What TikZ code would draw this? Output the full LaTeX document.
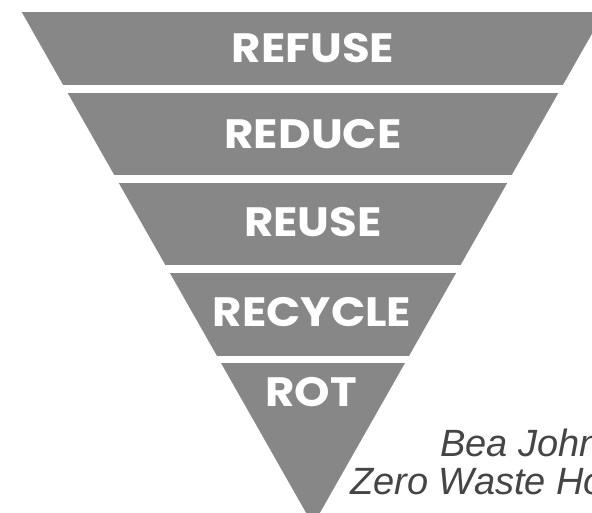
\documentclass[tikz,border=0pt]{standalone}
\usepackage{fontspec}
\setmainfont{Liberation Sans}
\newfontfamily\labelfont[FakeStretch=1.1]{Poppins}
\definecolor{bandgray}{HTML}{878787}
\definecolor{credgray}{HTML}{454545}
\tikzset{
  band/.style={fill=bandgray},
  lbl/.style={text=white, font=\labelfont\fontsize{41}{46}\selectfont\bfseries, inner sep=0pt, anchor=center},
  cred/.style={text=credgray, font=\fontsize{38}{42}\selectfont\itshape, inner sep=0pt, anchor=base west}
}
\begin{document}
\begin{tikzpicture}[x=1pt,y=-1pt]
\useasboundingbox (0,0) rectangle (592,513);
\clip (0,0) rectangle (592,513);
\fill[white] (0,0) rectangle (592,513);
\coordinate (tl) at (21.7,12);
\coordinate (tr) at (604.3,12);
\coordinate (apex) at (313,525);
\begin{scope}
  \clip (tl) -- (tr) -- (apex) -- cycle;
  \fill[band] (0,12) rectangle (620,85);
  \fill[band] (0,93) rectangle (620,175);
  \fill[band] (0,183) rectangle (620,265.5);
  \fill[band] (0,273) rectangle (620,356);
  \fill[band] (0,363) rectangle (620,530);
\end{scope}
\node[lbl] (refuse) at (313,48.5) {REFUSE};
\node[lbl] (reduce) at (313,134) {REDUCE};
\node[lbl] (reuse) at (313,222) {REUSE};
\node[lbl] (recycle) at (312,312) {RECYCLE};
\node[lbl] (rot) at (311,392) {ROT};
\node[cred] (bea) at (440,456) {Bea Johnson};
\node[cred] (zwh) at (350,494) {Zero Waste Home};
\end{tikzpicture}
\end{document}
